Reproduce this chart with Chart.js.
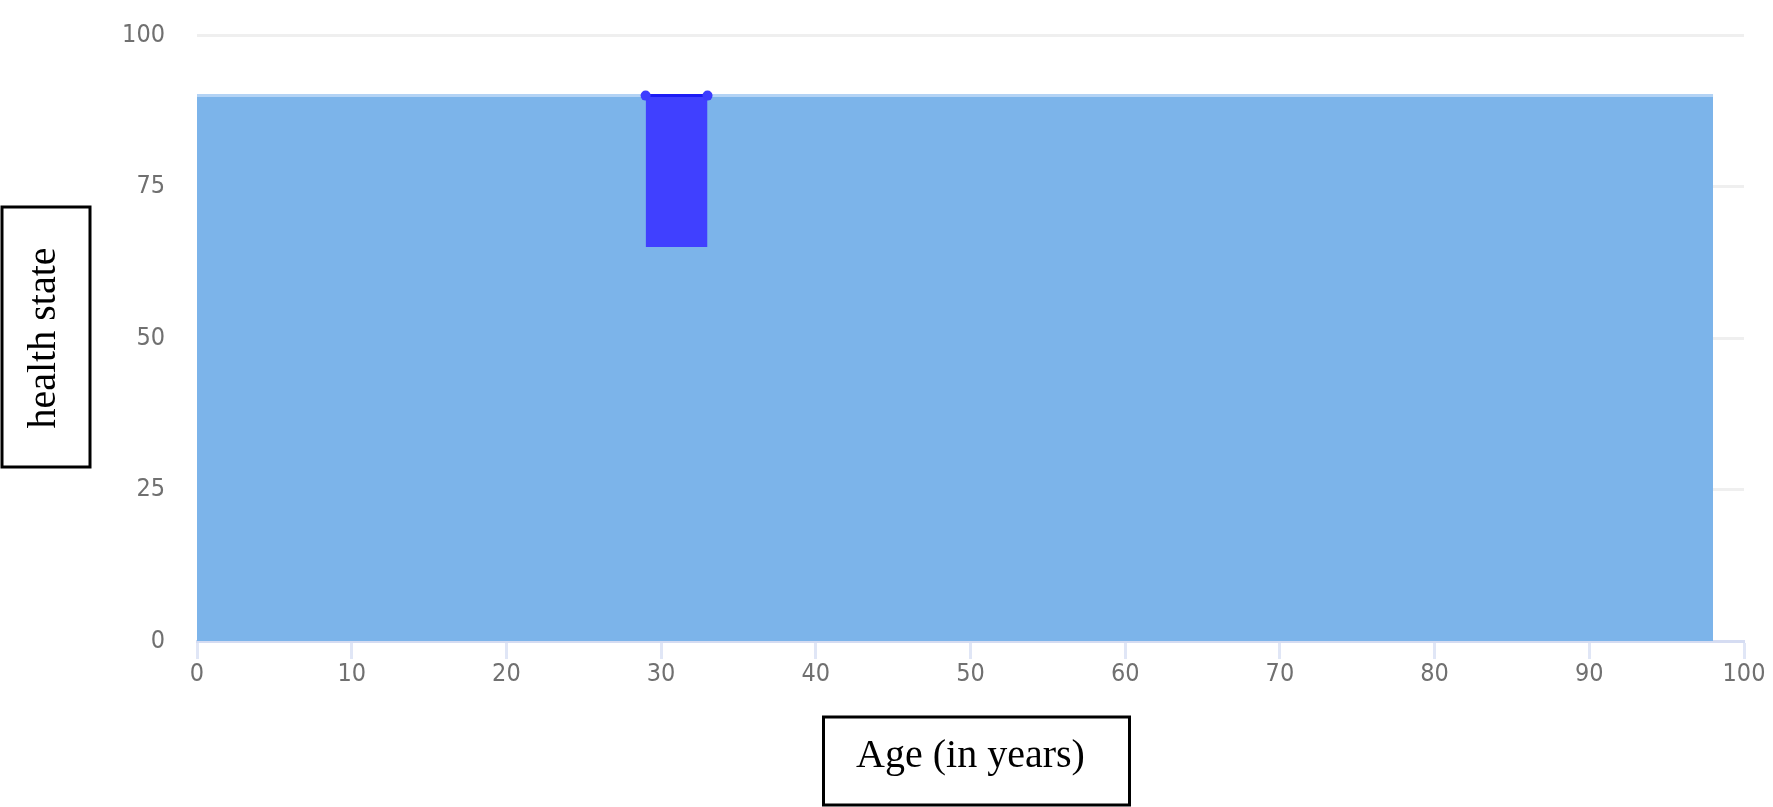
<!DOCTYPE html>
<html>
<head>
<meta charset="utf-8">
<script src="https://cdn.jsdelivr.net/npm/chart.js@4.4.1/dist/chart.umd.min.js"></script>
<style>
  html, body { margin: 0; padding: 0; background: #fff; }
  #wrap { width: 1773px; height: 807px; position: relative; }
</style>
</head>
<body>
<div id="wrap"><canvas id="chart"></canvas></div>
<script>
"use strict";

// values
var baseAges = [0, 98];
var baseHealth = [90, 90];
var dipAges = [29, 33];
var dipHealth = [90, 90];
var dipFloor = 65;
var yTicks = [0, 25, 50, 75, 100];
var xTitle = 'Age (in years)';
var yTitle = 'health state';

function pts(xs, ys) {
    return xs.map(function (x, i) { return {x: x, y: ys[i]}; });
}

var tickFont = {family: '"DejaVu Sans Condensed", "Liberation Sans Narrow", sans-serif', size: 25};
var titleFont = {family: '"Liberation Serif", "Times New Roman", serif', size: 40};

// boxes drawn around the two axis titles
var titleBoxes = {
    id: 'titleBoxes',
    afterDraw: function (chart) {
        var ctx = chart.ctx,
            area = chart.chartArea,
            xs = chart.scales.x,
            ys = chart.scales.y,
            xt = xs.options.title,
            yt = ys.options.title;

        ctx.save();
        ctx.strokeStyle = '#000';
        ctx.lineWidth = 3;

        // y title: left + padding.top + lineHeight/2
        var ylh = yt.font.size * 1.2;
        var ycx = ys.left + yt.padding.top + ylh / 2;
        var ycy = (area.top + area.bottom) / 2;
        ctx.strokeRect(ycx - 42, ycy - 131, 88, 260);

        // x title: bottom - padding.bottom - lineHeight/2
        var xlh = xt.font.size * 1.2;
        var xcy = xs.bottom - xt.padding.bottom - xlh / 2;
        var xcx = (area.left + area.right) / 2;
        ctx.strokeRect(xcx - 147, xcy - 39, 306, 88);

        ctx.restore();
    }
};

new Chart(document.getElementById('chart'), {
    type: 'line',
    data: {
        datasets: [{
            // dip drawn on top of the base area
            data: pts(dipAges, dipHealth),
            backgroundColor: '#4040ff',
            borderColor: '#1c1cf5',
            borderWidth: 3,
            fill: {value: dipFloor},
            pointRadius: 5,
            pointBackgroundColor: '#3c3cff',
            pointBorderWidth: 0,
            tension: 0
        }, {
            data: pts(baseAges, baseHealth),
            backgroundColor: '#7cb4ea',
            borderColor: '#b3d3f5',
            borderWidth: 3,
            fill: 'origin',
            pointRadius: 0,
            tension: 0
        }]
    },
    options: {
        responsive: true,
        maintainAspectRatio: false,
        animation: false,
        events: [],
        layout: {padding: {top: 35, right: 29, left: 0, bottom: 0}},
        plugins: {legend: {display: false}, tooltip: {enabled: false}},
        scales: {
            x: {
                type: 'linear',
                min: 0,
                max: 100,
                afterFit: function (s) {
                    s.height = 166;
                    s.paddingLeft = 0;
                    s.paddingRight = 0;
                },
                ticks: {stepSize: 10, font: tickFont, color: '#707070', padding: 0, maxRotation: 0},
                grid: {drawOnChartArea: false, drawTicks: true, tickLength: 18, tickColor: '#e0e6f6', tickWidth: 3},
                border: {display: true, color: '#d5dcf2', width: 3},
                title: {display: true, text: xTitle, font: titleFont, color: '#000', padding: {top: 0, bottom: 27}}
            },
            y: {
                min: 0,
                max: 100,
                afterFit: function (s) {
                    s.width = 197;
                    s.paddingTop = 0;
                    s.paddingBottom = 0;
                },
                afterBuildTicks: function (s) {
                    s.ticks = yTicks.map(function (v) { return {value: v}; });
                },
                ticks: {font: tickFont, color: '#707070', padding: 32},
                grid: {color: '#efefef', lineWidth: 3, drawTicks: false},
                border: {display: false},
                title: {display: true, text: yTitle, font: titleFont, color: '#000', padding: {top: 20, bottom: 0}}
            }
        }
    },
    plugins: [titleBoxes]
});
</script>
</body>
</html>
